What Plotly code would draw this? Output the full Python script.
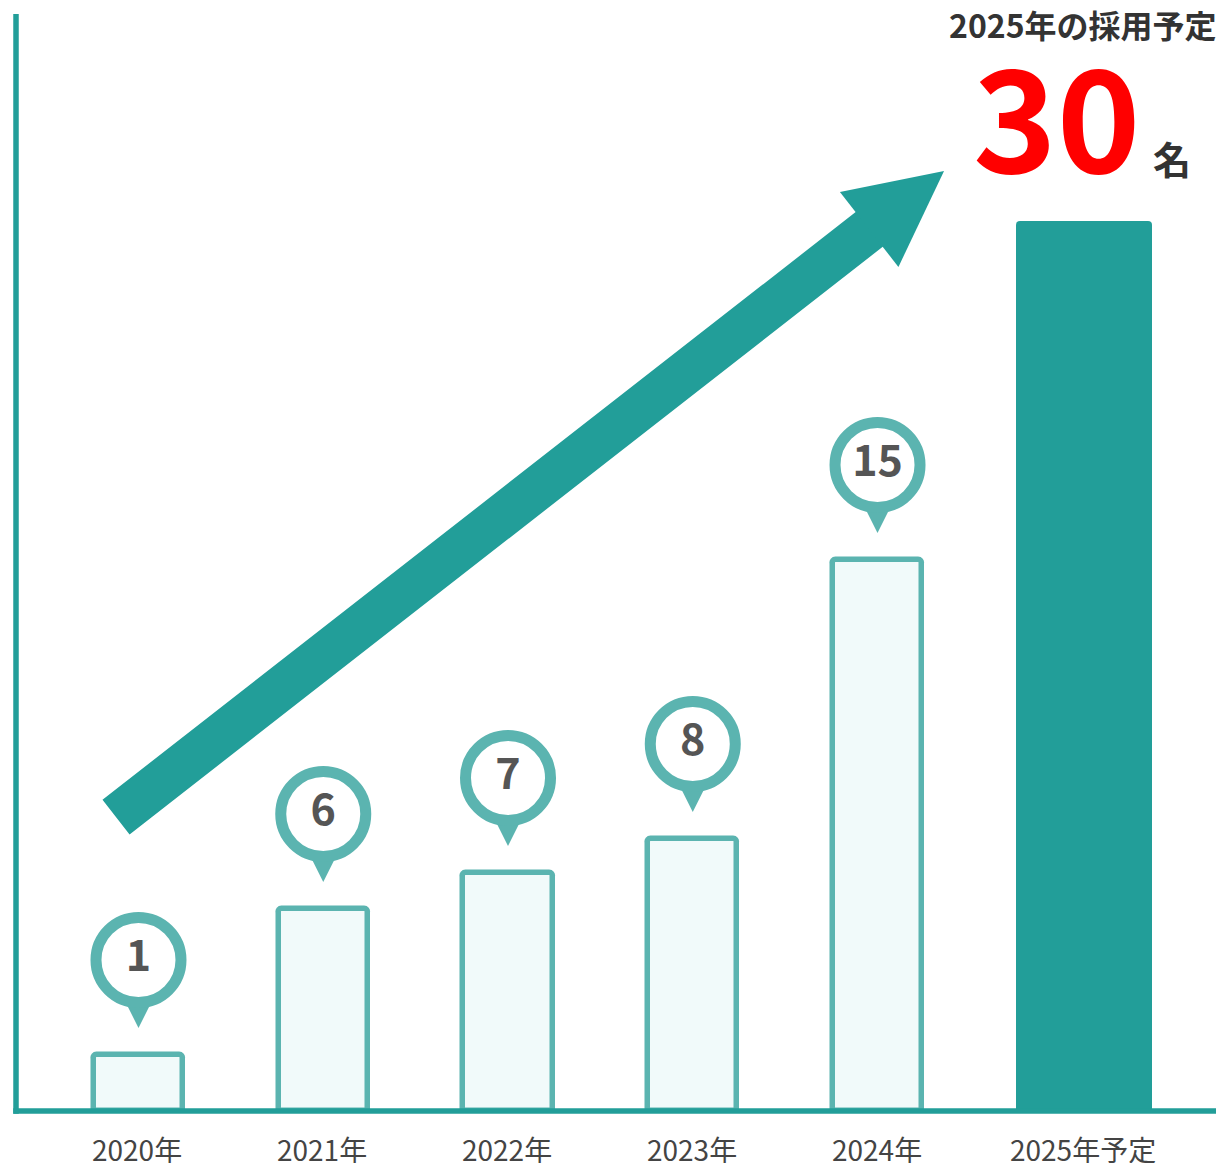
import plotly.graph_objects as go

# ---- data ----
categories = ["2020年", "2021年", "2022年", "2023年", "2024年", "2025年予定"]
recruits = [1, 6, 7, 8, 15, 30]                 # numbers shown on the chart
bar_heights = [56, 202, 238, 272, 551, 890]      # drawn bar heights (chart units)
headline = "2025年の採用予定"
headline_value = "30"
headline_unit = "名"

FONT = "Noto Sans CJK JP"
TEAL = "#229E99"
RING = "#5BB4B0"
FILL = "#F1FAFA"

n_past = len(categories) - 1
widths = [0.484] * n_past + [0.736]
offsets = [-0.242] * n_past + [-0.250]
fill_colors = [FILL] * n_past + [TEAL]
line_widths = [5.5] * n_past + [0]

fig = go.Figure()

fig.add_trace(go.Bar(
    x=categories, y=bar_heights,
    width=widths, offset=offsets,
    marker=dict(color=fill_colors, line=dict(color=RING, width=line_widths),
                cornerradius=4),
    hoverinfo="skip", showlegend=False,
))

past_x = categories[:n_past]
past_h = bar_heights[:n_past]
past_v = recruits[:n_past]

# pin tails
fig.add_trace(go.Scatter(
    x=past_x, y=[h + 27 for h in past_h], mode="markers",
    marker=dict(symbol="arrow-down", size=40, color=RING, line=dict(width=0)),
    hoverinfo="skip", showlegend=False, cliponaxis=False,
))
# pin heads with numbers
fig.add_trace(go.Scatter(
    x=past_x, y=[h + 95 for h in past_h], mode="markers+text",
    text=[str(v) for v in past_v], textposition="middle center",
    textfont=dict(family=FONT, size=43, color="#555555", weight=700),
    marker=dict(symbol="circle", size=85, color="white", line=dict(color=RING, width=11)),
    hoverinfo="skip", showlegend=False, cliponaxis=False,
))

annotations = []
# category labels
label_x = list(range(n_past)) + [5.118]
for lx, lab in zip(label_x, categories):
    annotations.append(dict(
        x=lx, y=0, xref="x", yref="y", yshift=-38, xshift=-1,
        yanchor="middle", xanchor="center",
        text=lab, showarrow=False, font=dict(family=FONT, size=28, color="#444444"),
    ))

# big arrow: shaft (no head) ...
annotations.append(dict(
    x=4.019, y=890.8, xref="x", yref="y",
    ax=-765.5, ay=597.3,
    text=" ", font=dict(size=1), borderpad=0,
    showarrow=True, arrowhead=0, arrowwidth=44,
    arrowcolor=TEAL, standoff=0, startstandoff=0,
))
# ... and head
annotations.append(dict(
    x=4.360, y=940, xref="x", yref="y",
    ax=-44.9, ay=35.1,
    text=" ", font=dict(size=1), borderpad=0,
    showarrow=True, arrowhead=2, arrowsize=4.75, arrowwidth=4,
    arrowcolor=TEAL, standoff=0, startstandoff=0,
))

# headline texts
annotations.append(dict(
    x=5.112, y=1087, xref="x", yref="y", xanchor="center", yanchor="middle",
    text=headline, showarrow=False,
    font=dict(family=FONT, size=32, color="#333333", weight=700),
))
annotations.append(dict(
    x=4.972, y=1000, xref="x", yref="y", xanchor="center", yanchor="middle",
    text=headline_value, showarrow=False,
    font=dict(family=FONT, size=142, color="#FF0000", weight=700),
))
annotations.append(dict(
    x=5.594, y=954, xref="x", yref="y", xanchor="center", yanchor="middle",
    text=headline_unit, showarrow=False,
    font=dict(family=FONT, size=38, color="#333333", weight=700),
))

shapes = [
    dict(type="line", xref="paper", yref="paper", x0=0, x1=0, y0=-2.75 / 1097, y1=1,
         line=dict(color=TEAL, width=5.5), layer="above"),
    dict(type="line", xref="paper", yref="paper", x0=-2.75 / 1200, x1=1, y0=0, y1=0,
         line=dict(color=TEAL, width=5.5), layer="above"),
]

fig.update_layout(
    width=1216, height=1163,
    margin=dict(l=16, r=0, t=14, b=52),
    paper_bgcolor="white", plot_bgcolor="white",
    xaxis=dict(type="category", range=[-0.663, 5.832], showticklabels=False,
               showgrid=False, zeroline=False, showline=False, ticks=""),
    yaxis=dict(range=[0, 1097], visible=False, showgrid=False, zeroline=False),
    annotations=annotations, shapes=shapes,
    font=dict(family=FONT), bargap=0,
)

fig.write_html("out.html", config={"displayModeBar": False},
               post_script="document.body.style.margin='0';")
